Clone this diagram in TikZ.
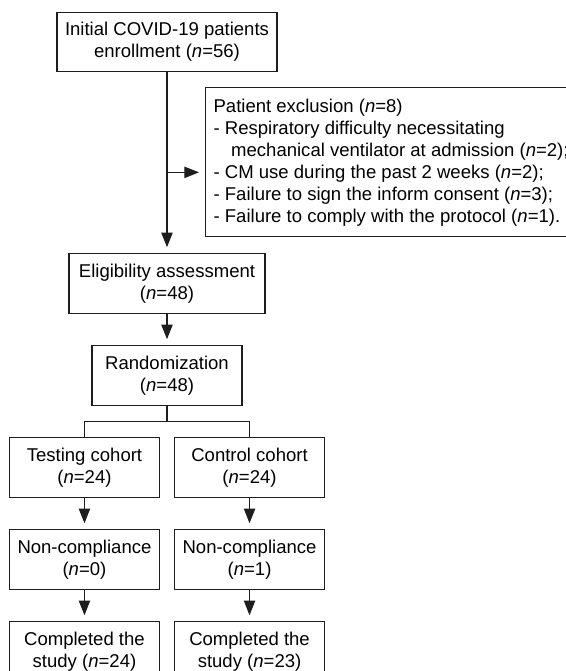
\documentclass[tikz,border=0pt]{standalone}
\usepackage{fontspec}
\setmainfont{Liberation Sans}
\usetikzlibrary{arrows.meta,positioning,calc}
\definecolor{ink}{HTML}{1E1E1E}

\begin{document}
\begin{tikzpicture}[node distance=23.6pt,
  font=\fontsize{13.9}{16.5}\selectfont,
  box/.style={draw=ink,line width=0.9pt,align=center,minimum height=44.5pt,inner sep=3pt},
  link/.style={draw=ink,line width=0.9pt},
  arr/.style={link,-{Triangle[length=11pt,width=8.5pt]},shorten >=4.5pt}]
\useasboundingbox (-125.25pt,31.5pt) rectangle (299.25pt,-471.75pt);
\node[box,minimum width=165pt] (init) {Initial COVID-19 patients\\enrollment (\textit{n}=56)};
\node[box,anchor=north west,align=left,minimum height=111.75pt,inner xsep=6pt] (excl) at ([xshift=28.5pt,yshift=-11.25pt]init.south) {Patient exclusion (\textit{n}=8)\\
- Respiratory difficulty necessitating\\
\hspace*{0.95em}mechanical ventilator at admission (\textit{n}=2);\\
- CM use during the past 2 weeks (\textit{n}=2);\\
- Failure to sign the inform consent (\textit{n}=3);\\
- Failure to comply with the protocol (\textit{n}=1).};
\node[box,minimum width=147pt,below=135.75pt of init] (elig) {Eligibility assessment\\(\textit{n}=48)};
\node[box,minimum width=112.5pt,below=of elig] (rand) {Randomization\\(\textit{n}=48)};
\node[box,minimum width=112.5pt,below=of rand,xshift=-61.9pt] (test) {Testing cohort\\(\textit{n}=24)};
\node[box,minimum width=112.5pt,below=of rand,xshift=61.9pt] (ctrl) {Control cohort\\(\textit{n}=24)};
\node[box,minimum width=112.5pt,below=of test] (tnon) {Non-compliance\\(\textit{n}=0)};
\node[box,minimum width=112.5pt,below=of ctrl] (cnon) {Non-compliance\\(\textit{n}=1)};
\node[box,minimum width=112.5pt,below=of tnon] (tdone) {Completed the\\study (\textit{n}=24)};
\node[box,minimum width=112.5pt,below=of cnon] (cdone) {Completed the\\study (\textit{n}=23)};
\coordinate (branch) at ([yshift=-7.5pt]excl.west);
\coordinate (split) at ($(rand.south)!0.5!(rand.south |- test.north)$);
\draw[arr] (init) -- (elig);
\draw[arr] (init.south |- branch) -- (branch);
\draw[arr] (elig) -- (rand);
\draw[link] (rand) -- (split);
\draw[link] (test.north) |- (split) -| (ctrl.north);
\draw[arr] (test) -- (tnon);
\draw[arr] (ctrl) -- (cnon);
\draw[arr] (tnon) -- (tdone);
\draw[arr] (cnon) -- (cdone);
\end{tikzpicture}
\end{document}
